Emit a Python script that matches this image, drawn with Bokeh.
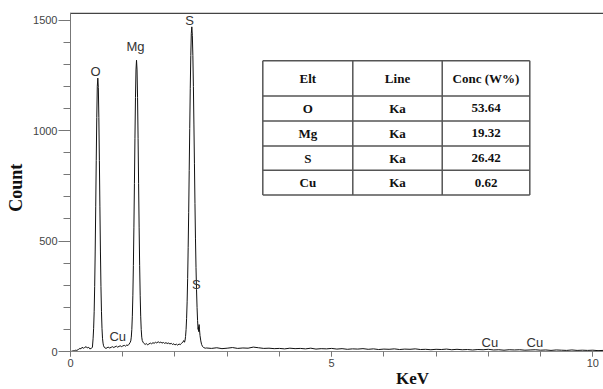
from bokeh.plotting import figure
from bokeh.models import SingleIntervalTicker, Range1d
from bokeh.core.properties import value
from bokeh.embed import file_html
from bokeh.resources import INLINE
import math

# ---------------- data ----------------
spectrum_kev = [
    0.00, 0.02, 0.05, 0.08, 0.10, 0.12, 0.15, 0.18, 0.20, 0.22, 0.25, 0.27, 0.30, 0.32, 0.35, 0.37, 0.40, 0.42,
    0.433, 0.443, 0.453, 0.463, 0.473, 0.483, 0.493, 0.503, 0.513, 0.523, 0.533, 0.543, 0.553, 0.563, 0.573,
    0.583, 0.593, 0.603, 0.613, 0.623, 0.633,
    0.65, 0.68, 0.70, 0.72, 0.75, 0.78, 0.80, 0.83, 0.85, 0.88, 0.90, 0.93, 0.95, 0.98, 1.00, 1.03, 1.05, 1.08,
    1.10, 1.12, 1.14,
    1.154, 1.164, 1.174, 1.184, 1.194, 1.204, 1.214, 1.224, 1.234, 1.244, 1.254, 1.264, 1.274, 1.284, 1.294,
    1.304, 1.314, 1.324, 1.334, 1.344, 1.354, 1.364, 1.374, 1.39,
    1.40, 1.43, 1.45, 1.48, 1.50, 1.53, 1.55, 1.58, 1.60, 1.63, 1.65, 1.68, 1.70, 1.73, 1.75, 1.78, 1.80, 1.83,
    1.85, 1.88, 1.90, 1.93, 1.95, 1.98, 2.00, 2.03, 2.05, 2.08, 2.10, 2.13, 2.15, 2.17,
    2.183, 2.193, 2.203, 2.213, 2.223, 2.233, 2.243, 2.253, 2.263, 2.273, 2.283, 2.293, 2.303, 2.313, 2.323,
    2.333, 2.343, 2.353, 2.363, 2.373, 2.383, 2.393, 2.403, 2.413, 2.423, 2.433, 2.443, 2.450, 2.455, 2.462,
    2.470, 2.480, 2.495, 2.51, 2.53, 2.55, 2.58,
    2.6, 2.7, 2.8, 2.9, 3.0, 3.1, 3.2, 3.3, 3.4, 3.5, 3.6, 3.7, 3.8, 3.9, 4.0, 4.1, 4.2, 4.3, 4.4, 4.5,
    4.6, 4.7, 4.8, 4.9, 5.0, 5.1, 5.2, 5.3, 5.4, 5.5, 5.6, 5.7, 5.8, 5.9, 6.0, 6.1, 6.2, 6.3, 6.4, 6.5,
    6.6, 6.7, 6.8, 6.9, 7.0, 7.1, 7.2, 7.3, 7.4, 7.5, 7.6, 7.7, 7.8, 7.9, 8.0, 8.1, 8.2, 8.3, 8.4, 8.5,
    8.6, 8.7, 8.8, 8.9, 9.0, 9.1, 9.2, 9.3, 9.4, 9.5, 9.6, 9.7, 9.8, 9.9, 10.0, 10.1, 10.2,
]
spectrum_count = [
    0, 1, 3, 4, 6, 5, 9, 14, 12, 19, 15, 18, 22, 16, 19, 12, 14, 20,
    60, 105, 180, 295, 455, 655, 865, 1060, 1200, 1238, 1195, 1060, 865, 655, 455,
    295, 180, 105, 60, 38, 26,
    18, 14, 17, 20, 16, 19, 22, 18, 21, 24, 20, 23, 26, 22, 25, 28, 24, 30,
    27, 33, 40,
    48, 65, 100, 160, 255, 390, 560, 760, 965, 1150, 1275, 1319, 1275, 1150, 965,
    760, 560, 390, 255, 160, 100, 65, 50, 42,
    38, 32, 36, 30, 34, 38, 35, 40, 37, 42, 39, 44, 40, 43, 38, 41, 37, 40,
    36, 39, 34, 37, 32, 35, 30, 33, 29, 34, 31, 38, 42, 50,
    42, 50, 68, 100, 150, 225, 330, 470, 630, 820, 1010, 1190, 1340, 1440, 1470,
    1430, 1340, 1200, 1030, 850, 670, 510, 380, 280, 200, 140, 100, 112, 90, 122,
    98, 72, 48, 32, 22, 18, 15,
    16, 14, 17, 13, 15, 18, 14, 16, 15, 20, 17, 14, 15, 13, 14, 12, 15, 13, 14, 12,
    15, 11, 13, 12, 14, 11, 13, 10, 12, 11, 13, 10, 12, 9, 11, 10, 12, 9, 11, 10,
    12, 9, 10, 8, 10, 9, 11, 8, 10, 8, 9, 7, 9, 8, 10, 7, 8, 6, 8, 7,
    8, 6, 7, 8, 6, 7, 5, 7, 6, 5, 7, 5, 6, 5, 6, 4, 5,
]

peak_labels = ["O", "Mg", "S", "S", "Cu", "Cu", "Cu"]
peak_label_kev = [0.48, 1.245, 2.28, 2.41, 0.905, 8.03, 8.89]
peak_label_count = [1266, 1380, 1497, 305, 66, 41, 41]

table_header = ["Elt", "Line", "Conc (W%)"]
table_elements = ["O", "Mg", "S", "Cu"]
table_lines = ["Ka", "Ka", "Ka", "Ka"]
table_conc = ["53.64", "19.32", "26.42", "0.62"]

x_title = "KeV"
y_title = "Count"

# ---------------- layout (positions in axis units) ----------------
X_MIN, X_MAX = 0, 10.205          # extent of the drawn axes
Y_MIN, Y_MAX = 0, 1535
VIEW_LEFT = -1.3402               # room left of the y axis for its labels and title
VIEW_BOTTOM = -172                # room under the x axis for its labels and title
TOP_BORDER = 1532
tab_x_edges = [3.682, 5.405, 7.117, 8.794]
tab_y_edges = [1316, 1157, 1044, 931, 821, 709]
x_title_pos = (6.55, -122)
y_title_pos = (-1.053, 742)

SANS = "Liberation Sans"
SERIF = "Liberation Serif"

p = figure(width=603, height=389, output_backend="svg", toolbar_location=None,
           x_range=Range1d(VIEW_LEFT, X_MAX), y_range=Range1d(VIEW_BOTTOM, Y_MAX),
           min_border_left=0, min_border_right=0, min_border_top=12, min_border_bottom=0)
p.outline_line_color = None
p.grid.visible = False
p.background_fill_color = "white"
p.border_fill_color = "white"

p.line(spectrum_kev, spectrum_count, line_color="#111111", line_width=1)

# top border of the plotting area
p.segment(x0=[X_MIN], y0=[TOP_BORDER], x1=[X_MAX], y1=[TOP_BORDER], line_color="#444444", line_width=1.5)

# peak labels
p.text(x=peak_label_kev, y=peak_label_count, text=peak_labels,
       text_font=value(SANS), text_font_size="13px", text_color="#333333",
       text_align="center", text_baseline="middle")

# table
hx0, hx1, hy = [], [], []
for yv in tab_y_edges:
    hx0.append(tab_x_edges[0]); hx1.append(tab_x_edges[-1]); hy.append(yv)
p.segment(x0=hx0, y0=hy, x1=hx1, y1=hy, line_color="#555555", line_width=1.5)
vx, vy0, vy1 = [], [], []
for xv in tab_x_edges:
    vx.append(xv); vy0.append(tab_y_edges[0]); vy1.append(tab_y_edges[-1])
p.segment(x0=vx, y0=vy0, x1=vx, y1=vy1, line_color="#555555", line_width=1.5)

col_centers = [(tab_x_edges[i] + tab_x_edges[i + 1]) / 2 for i in range(3)]
row_centers = [(tab_y_edges[i] + tab_y_edges[i + 1]) / 2 for i in range(5)]
cells_x, cells_y, cells_t = [], [], []
rows = [table_header] + [[e, l, c] for e, l, c in zip(table_elements, table_lines, table_conc)]
for r, row in enumerate(rows):
    for c, t in enumerate(row):
        cells_x.append(col_centers[c]); cells_y.append(row_centers[r]); cells_t.append(t)
p.text(x=cells_x, y=cells_y, text=cells_t, text_font=value(SERIF), text_font_size="13px",
       text_font_style="bold", text_color="#111111", text_align="center", text_baseline="middle")

# axis titles
p.text(x=[x_title_pos[0]], y=[x_title_pos[1]], text=[x_title], text_font=value(SERIF),
       text_font_size="17px", text_font_style="bold", text_color="#111111",
       text_align="center", text_baseline="middle")
p.text(x=[y_title_pos[0]], y=[y_title_pos[1]], text=[y_title], text_font=value(SERIF),
       text_font_size="18px", text_font_style="bold", text_color="#111111",
       text_align="center", text_baseline="middle", angle=math.pi / 2)

# axes, drawn at the origin inside the view
xa = p.xaxis[0]
xa.fixed_location = 0
xa.bounds = (X_MIN, X_MAX)
xa.ticker = SingleIntervalTicker(interval=5, num_minor_ticks=5)
xa.major_label_text_font = SANS
xa.major_label_text_font_size = "11px"
xa.major_label_text_color = "#444444"
xa.major_label_standoff = 2
xa.axis_line_color = "#888888"
xa.major_tick_line_color = "#777777"
xa.minor_tick_line_color = "#777777"
xa.major_tick_in = 0
xa.major_tick_out = 5
xa.minor_tick_in = 0
xa.minor_tick_out = 5

ya = p.yaxis[0]
ya.fixed_location = 0
ya.bounds = (Y_MIN, Y_MAX)
ya.ticker = SingleIntervalTicker(interval=500, num_minor_ticks=5)
ya.major_label_text_font = SANS
ya.major_label_text_font_size = "11px"
ya.major_label_text_color = "#444444"
ya.major_label_standoff = 1
ya.major_label_orientation = "horizontal"
ya.axis_line_color = "#777777"
ya.major_tick_line_color = "#777777"
ya.minor_tick_line_color = "#777777"
ya.major_tick_in = 0
ya.major_tick_out = 12
ya.minor_tick_in = 0
ya.minor_tick_out = 7

open("out.html", "w").write(file_html(p, INLINE))
